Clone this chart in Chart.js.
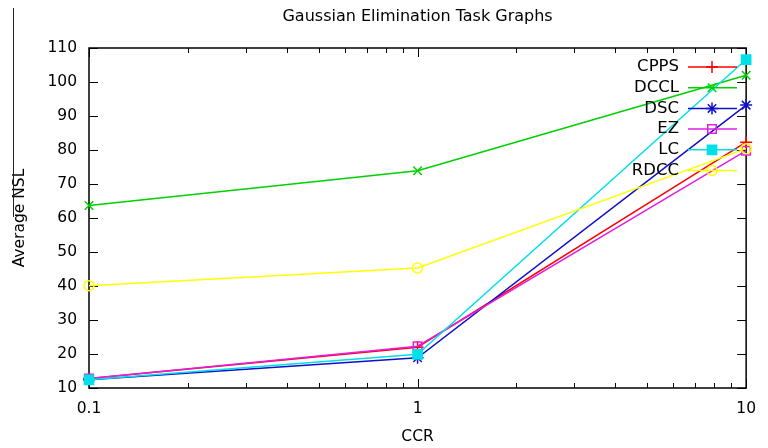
<!DOCTYPE html>
<html>
<head>
<meta charset="utf-8">
<script src="https://cdn.jsdelivr.net/npm/chart.js@4/dist/chart.umd.min.js"></script>
<style>
html, body { margin: 0; padding: 0; background: #fff; }
</style>
</head>
<body>
<canvas id="myChart" width="768" height="448"></canvas>
<script>
// CCR values on the x axis (log scale)
const ccr = [0.1, 1, 10];

// average NSL per algorithm
const cpps = [12.8, 22.0, 82.3];
const dccl = [63.7, 73.9, 102.0];
const dsc = [12.4, 18.9, 93.2];
const ez = [12.8, 22.3, 79.8];
const lc = [12.4, 19.9, 106.6];
const rdcc = [40.1, 45.3, 80.4];

const seriesNames = ['CPPS', 'DCCL', 'DSC', 'EZ', 'LC', 'RDCC'];
const xMajor = [0.1, 1, 10];
const yTicks = [10, 20, 30, 40, 50, 60, 70, 80, 90, 100, 110];

const FONT = 'DejaVu Sans';

function pts(vals) {
    return vals.map((v, i) => ({ x: ccr[i], y: v }));
}

const styles = [
    { color: '#ff0000', point: 'cross', radius: 6, fill: '#ff0000' },
    { color: '#00d000', point: 'crossRot', radius: 6, fill: '#00d000' },
    { color: '#1010c8', point: 'star', radius: 6, fill: '#1010c8' },
    { color: '#e020e0', point: 'rect', radius: 6, fill: 'rgba(0,0,0,0)' },
    { color: '#00e0e8', point: 'rect', radius: 6.5, fill: '#00e0e8' },
    { color: '#ffff00', point: 'circle', radius: 5, fill: 'rgba(0,0,0,0)' }
];
const values = [cpps, dccl, dsc, ez, lc, rdcc];

const datasets = values.map((v, i) => ({
    label: seriesNames[i],
    data: pts(v),
    borderColor: styles[i].color,
    backgroundColor: styles[i].fill,
    borderWidth: 1.5,
    pointStyle: styles[i].point,
    pointRadius: styles[i].radius,
    pointBorderWidth: 1.5,
    pointBorderColor: styles[i].color,
    pointBackgroundColor: styles[i].fill,
    tension: 0,
    clip: false,
    order: 6 - i
}));

// box around the plot with inward ticks on all four sides
const frame = {
    id: 'frame',
    beforeDatasetsDraw(chart) {
        const { ctx, chartArea: a, scales } = chart;
        ctx.save();
        ctx.strokeStyle = '#000';
        ctx.lineWidth = 1.5;
        ctx.strokeRect(a.left, a.top, a.right - a.left, a.bottom - a.top);
        ctx.lineWidth = 1;
        ctx.beginPath();
        scales.x.ticks.forEach(t => {
            const px = Math.round(scales.x.getPixelForValue(t.value)) + 0.5;
            const len = xMajor.includes(t.value) ? 9 : 5;
            ctx.moveTo(px, a.bottom); ctx.lineTo(px, a.bottom - len);
            ctx.moveTo(px, a.top); ctx.lineTo(px, a.top + len);
        });
        yTicks.forEach(v => {
            const py = Math.round(scales.y.getPixelForValue(v)) + 0.5;
            ctx.moveTo(a.left, py); ctx.lineTo(a.left + 9, py);
            ctx.moveTo(a.right, py); ctx.lineTo(a.right - 9, py);
        });
        ctx.stroke();
        ctx.restore();
    },
    afterDatasetsDraw(chart) {
        const ctx = chart.ctx;
        ctx.save();
        ctx.font = '16.5px "' + FONT + '"';
        ctx.textAlign = 'right';
        ctx.textBaseline = 'middle';
        chart.data.datasets.forEach((ds, i) => {
            const y = 67 + i * 20.7;
            ctx.fillStyle = '#000';
            ctx.fillText(ds.label, 679, y);
            ctx.strokeStyle = ds.borderColor;
            ctx.lineWidth = 1.5;
            ctx.beginPath();
            ctx.moveTo(688, y); ctx.lineTo(737, y);
            ctx.stroke();
            ctx.fillStyle = ds.pointBackgroundColor;
            Chart.helpers.drawPoint(ctx, {
                pointStyle: ds.pointStyle,
                radius: ds.pointRadius,
                borderWidth: 1.5,
                rotation: 0
            }, 712, y);
        });
        ctx.restore();
    },
    afterDraw(chart) {
        const { ctx, chartArea: a } = chart;
        ctx.save();
        ctx.fillStyle = '#000';
        ctx.font = '16px "' + FONT + '"';
        ctx.textAlign = 'center';
        ctx.textBaseline = 'middle';
        ctx.fillText('Gaussian Elimination Task Graphs', (a.left + a.right) / 2, 17);
        // page rule at the left edge
        ctx.strokeStyle = '#222';
        ctx.lineWidth = 1;
        ctx.beginPath();
        ctx.moveTo(13.5, 8); ctx.lineTo(13.5, 217);
        ctx.stroke();
        ctx.restore();
    }
};

new Chart(document.getElementById('myChart'), {
    type: 'line',
    data: { datasets: datasets },
    options: {
        responsive: false,
        animation: false,
        layout: { padding: { top: 48, right: 13, left: 0, bottom: 0 } },
        plugins: {
            legend: { display: false },
            title: { display: false },
            tooltip: { enabled: false }
        },
        scales: {
            x: {
                type: 'logarithmic',
                min: 0.1,
                max: 10,
                border: { display: false },
                grid: { display: false, drawTicks: false },
                afterBuildTicks(scale) {
                    const t = [];
                    [0.1, 1].forEach(d => {
                        for (let k = 1; k < 10; k++) t.push({ value: +(d * k).toFixed(2) });
                    });
                    t.push({ value: 10 });
                    scale.ticks = t;
                },
                afterFit(scale) { scale.height = 60; },
                ticks: {
                    autoSkip: false,
                    maxRotation: 0,
                    padding: 12,
                    color: '#000',
                    font: { family: FONT, size: 15.5 },
                    callback: v => xMajor.includes(v) ? String(v) : ''
                },
                title: {
                    display: true,
                    text: 'CCR',
                    color: '#000',
                    font: { family: FONT, size: 15.5 },
                    padding: { top: 0, bottom: 2 }
                }
            },
            y: {
                min: 10,
                max: 110,
                border: { display: false },
                grid: { display: false, drawTicks: false },
                afterFit(scale) { scale.width = 89; },
                ticks: {
                    stepSize: 10,
                    padding: 12,
                    color: '#000',
                    font: { family: FONT, size: 15.5 }
                },
                title: {
                    display: true,
                    text: 'Average NSL',
                    color: '#000',
                    font: { family: FONT, size: 15.5 },
                    padding: { top: 11, bottom: 0 }
                }
            }
        }
    },
    plugins: [frame]
});
</script>
</body>
</html>
